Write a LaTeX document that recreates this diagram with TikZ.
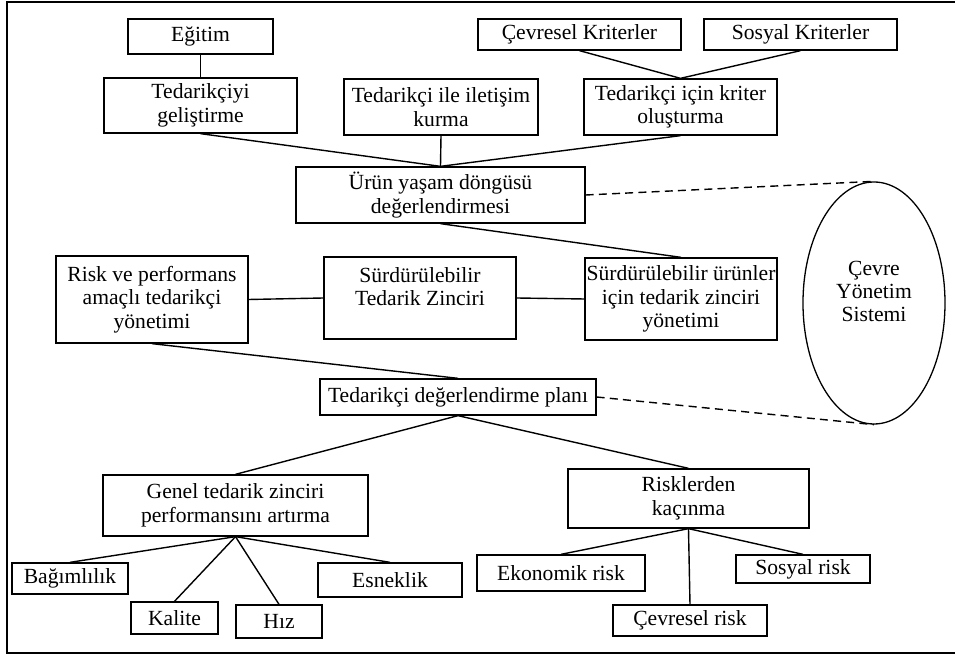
\documentclass[tikz,border=0pt]{standalone}
\usepackage{fontspec}
\setmainfont{Liberation Serif}
\usetikzlibrary{shapes.geometric}
\tikzstyle{box}+=[draw,line width=0.65pt,align=center,inner xsep=0.5pt,inner ysep=1pt,font=\fontsize{10.8}{11.7}\selectfont]
\tikzstyle{link}+=[line width=0.7pt]
\tikzstyle{dashlink}+=[line width=0.7pt,dash pattern=on 4pt off 2.6pt]

\begin{document}
\begin{tikzpicture}[x=0.5pt,y=-0.5pt]
        \useasboundingbox (0,0) rectangle (955,657);
        % frame, open on the right
        \draw[line width=1pt] (955,2.5) -- (7,2.5) -- (7,653) -- (955,653);

        % top rows
        \node[box,minimum width=72.5pt,minimum height=17.5pt] (egitim) at (200.5,36.5) {Eğitim};
        \node[box,minimum width=101.5pt,minimum height=15.5pt] (cevkrit) at (579.5,34.5) {Çevresel Kriterler};
        \node[box,minimum width=96.5pt,minimum height=15.5pt] (soskrit) at (800.5,34.5) {Sosyal Kriterler};
        \node[box,minimum width=96.5pt,minimum height=27.5pt] (gelistir) at (200.5,105.5) {Tedarikçiyi\\geliştirme};
        \node[box,minimum width=97pt,minimum height=28pt] (iletisim) at (441,107) {Tedarikçi ile iletişim\\kurma};
        \node[box,minimum width=96.5pt,minimum height=28pt] (kriter) at (680.5,107) {Tedarikçi için kriter\\oluşturma};
        \node[box,minimum width=144.5pt,minimum height=28pt] (urun) at (440.5,195) {Ürün yaşam döngüsü\\değerlendirmesi};

        % middle row
        \node[box,minimum width=96pt,minimum height=43.5pt] (riskperf) at (152,299.5) {Risk ve performans\\amaçlı tedarikçi\\yönetimi};
        \node[box,minimum width=96pt,minimum height=41pt] (stz) at (420,298) {Sürdürülebilir\\Tedarik Zinciri\\\mbox{}};
        \node[box,minimum width=96pt,minimum height=41pt] (urunler) at (681,299) {Sürdürülebilir ürünler\\için tedarik zinciri\\yönetimi};
        \node[box,ellipse,inner sep=0pt,minimum width=71pt,minimum height=121pt] (ems) at (874,303) {Çevre\\Yönetim\\Sistemi\\\mbox{}};
        \node[box,minimum width=138pt,minimum height=18pt] (plan) at (458,397) {Tedarikçi değerlendirme planı};

        % bottom rows
        \node[box,minimum width=132.5pt,minimum height=30.5pt] (genel) at (235.5,505.5) {Genel tedarik zinciri\\performansını artırma};
        \node[box,minimum width=120.5pt,minimum height=29.5pt] (kacin) at (688.5,498.5) {Risklerden\\kaçınma};
        \node[box,minimum width=58pt,minimum height=15.5pt] (bagim) at (70,578.5) {Bağımlılık};
        \node[box,minimum width=43.5pt,minimum height=16pt] (kalite) at (174.5,618) {Kalite};
        \node[box,minimum width=43pt,minimum height=16.5pt] (hiz) at (279,621.5) {Hız};
        \node[box,minimum width=72pt,minimum height=17pt] (esnek) at (390,580) {Esneklik};
        \node[box,minimum width=84pt,minimum height=18pt] (ekorisk) at (561,573) {Ekonomik risk};
        \node[box,minimum width=77pt,minimum height=15.5pt] (cevrisk) at (690,620.5) {Çevresel risk};
        \node[box,minimum width=67pt,minimum height=14pt] (sosrisk) at (803,569) {Sosyal risk};

        % connectors
        \draw[link] (egitim.south) -- (gelistir.north);
        \draw[link] (cevkrit.south) -- (kriter.north) -- (soskrit.south);
        \draw[link] (gelistir.south) -- (urun.north) -- (kriter.south);
        \draw[link] (iletisim.south) -- (urun.north);
        \draw[link] (urun.south) -- (urunler.north);
        \draw[link] (riskperf.east) -- (stz.west);
        \draw[link] (stz.east) -- (urunler.west);
        \draw[link] (riskperf.south) -- (plan.north);
        \draw[link] (genel.north) -- (plan.south) -- (kacin.north);
        \draw[link] (genel.south) -- (bagim.north);
        \draw[link] (genel.south) -- (kalite.north);
        \draw[link] (genel.south) -- (hiz.north);
        \draw[link] (genel.south) -- (esnek.north);
        \draw[link] (kacin.south) -- (ekorisk.north);
        \draw[link] (kacin.south) -- (cevrisk.north);
        \draw[link] (kacin.south) -- (sosrisk.north);
        \draw[dashlink] (urun.east) -- (ems.north);
        \draw[dashlink] (plan.east) -- (ems.south);

    \end{tikzpicture}
\end{document}
